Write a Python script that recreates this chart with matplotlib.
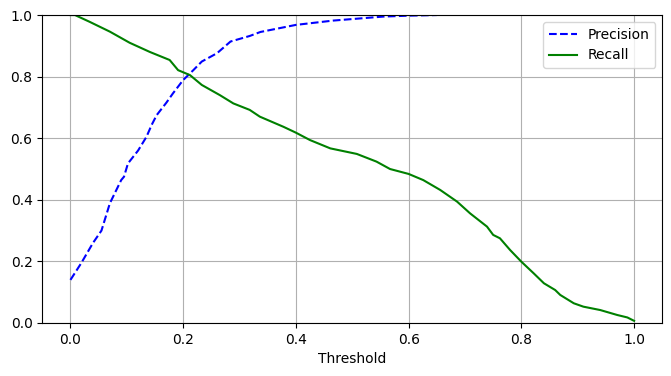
import matplotlib
matplotlib.use("Agg")
import matplotlib.pyplot as plt

# values
precision_thr = [0.0, 0.019, 0.04, 0.055, 0.07, 0.09, 0.095, 0.102, 0.12, 0.135, 0.144,
                 0.153, 0.17, 0.182, 0.2, 0.218, 0.233, 0.26, 0.284, 0.318, 0.337,
                 0.4, 0.466, 0.555, 0.6, 0.65]
precision = [0.14, 0.194, 0.26, 0.3, 0.389, 0.464, 0.475, 0.518, 0.56, 0.605, 0.643,
             0.675, 0.715, 0.746, 0.789, 0.821, 0.849, 0.876, 0.914, 0.932, 0.945,
             0.968, 0.982, 0.995, 0.998, 1.0]

recall_thr = [0.0, 0.008, 0.034, 0.07, 0.105, 0.141, 0.176, 0.191, 0.212, 0.233, 0.265,
              0.289, 0.318, 0.336, 0.378, 0.4, 0.425, 0.461, 0.508, 0.543, 0.567,
              0.6, 0.626, 0.656, 0.686, 0.709, 0.739, 0.75, 0.762, 0.78, 0.8,
              0.822, 0.84, 0.86, 0.869, 0.893, 0.91, 0.94, 0.97, 0.988, 1.0]
recall = [1.0, 1.0, 0.978, 0.946, 0.91, 0.88, 0.854, 0.821, 0.805, 0.773, 0.74,
          0.713, 0.692, 0.67, 0.637, 0.618, 0.594, 0.567, 0.549, 0.524, 0.5,
          0.484, 0.464, 0.432, 0.394, 0.356, 0.313, 0.286, 0.275, 0.237, 0.199,
          0.161, 0.129, 0.107, 0.091, 0.064, 0.053, 0.042, 0.026, 0.018, 0.007]

fig, ax = plt.subplots(figsize=(6.71, 3.76), dpi=100)
ax.plot(precision_thr, precision, "b--", label="Precision")
ax.plot(recall_thr, recall, "g-", label="Recall")
ax.set_xlabel("Threshold")
ax.set_xlim(-0.05, 1.05)
ax.set_ylim(0, 1)
ax.legend(loc="upper right")
ax.grid(True)
fig.subplots_adjust(left=0.063, right=0.987, top=0.96, bottom=0.141)
fig.savefig("out.png")
